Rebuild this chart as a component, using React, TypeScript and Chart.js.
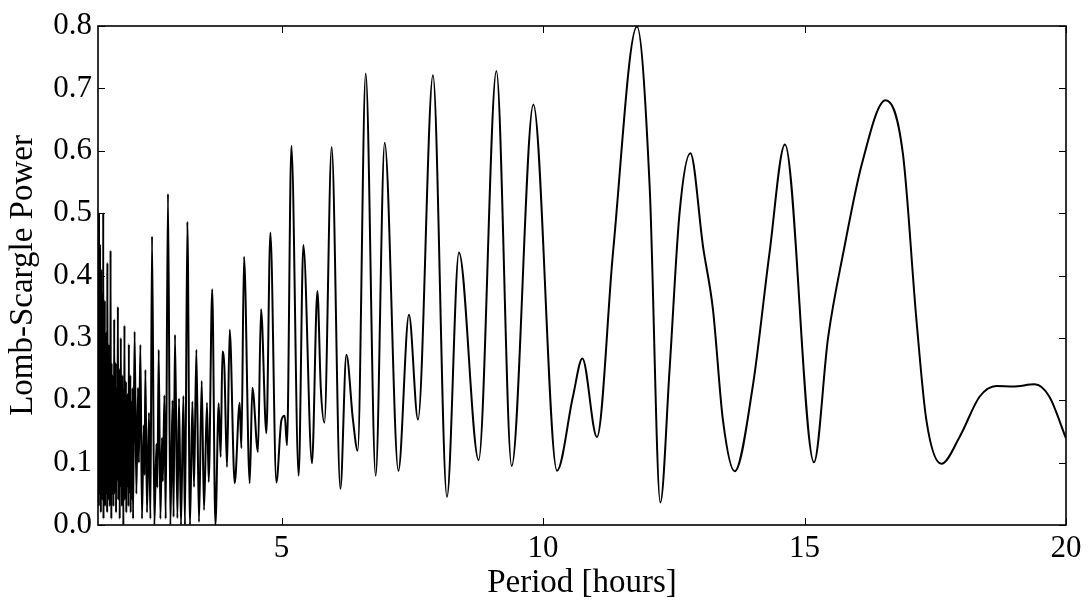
import React, { useEffect, useRef } from "react";
import { Chart, registerables } from "chart.js";

Chart.register(...registerables);

// ---- Data ----
// Dense short-period band (1.49 h – 2.16 h)
const denseBandPeriods: number[] = [
  1.490, 1.495, 1.500, 1.505, 1.510, 1.515, 1.520, 1.525, 1.530, 1.535,
  1.540, 1.545, 1.550, 1.555, 1.560, 1.565, 1.570, 1.575, 1.580, 1.585,
  1.590, 1.595, 1.600, 1.605, 1.610, 1.615, 1.620, 1.625, 1.630, 1.635,
  1.640, 1.645, 1.650, 1.655, 1.660, 1.665, 1.670, 1.675, 1.680, 1.685,
  1.690, 1.695, 1.700, 1.705, 1.710, 1.715, 1.720, 1.725, 1.730, 1.735,
  1.740, 1.745, 1.750, 1.755, 1.760, 1.765, 1.770, 1.775, 1.780, 1.785,
  1.790, 1.795, 1.800,
  1.807, 1.814, 1.821, 1.828, 1.835, 1.842, 1.849, 1.856, 1.863, 1.870,
  1.877, 1.884, 1.891, 1.898, 1.905, 1.912, 1.919, 1.926, 1.933, 1.940,
  1.947, 1.954, 1.961, 1.968, 1.975, 1.982, 1.989, 1.996, 2.003, 2.010,
  2.017, 2.024, 2.031, 2.038, 2.045, 2.052, 2.059, 2.066, 2.073, 2.080,
  2.087, 2.094, 2.101, 2.108, 2.115, 2.122, 2.129, 2.136, 2.143, 2.150,
  2.160,
];
const denseBandPower: number[] = [
  0.30, 0.08, 0.38, 0.03, 0.50, 0.10, 0.36, 0.05, 0.45, 0.12,
  0.28, 0.02, 0.41, 0.07, 0.33, 0.11, 0.37, 0.04, 0.26, 0.09,
  0.50, 0.01, 0.31, 0.06, 0.24, 0.13, 0.36, 0.03, 0.27, 0.08,
  0.22, 0.05, 0.31, 0.10, 0.25, 0.02, 0.42, 0.07, 0.20, 0.12,
  0.29, 0.04, 0.23, 0.09, 0.18, 0.03, 0.27, 0.06, 0.44, 0.11,
  0.21, 0.01, 0.26, 0.08, 0.17, 0.05, 0.24, 0.10, 0.20, 0.03,
  0.15, 0.07, 0.33,
  0.05, 0.19, 0.09, 0.26, 0.02, 0.22, 0.07, 0.17, 0.11, 0.35,
  0.04, 0.21, 0.08, 0.25, 0.01, 0.18, 0.06, 0.30, 0.10, 0.20,
  0.03, 0.24, 0.08, 0.16, 0.00, 0.22, 0.07, 0.32, 0.04, 0.19,
  0.09, 0.23, 0.02, 0.15, 0.06, 0.21, 0.10, 0.18, 0.03, 0.29,
  0.05, 0.17, 0.08, 0.24, 0.02, 0.14, 0.06, 0.20, 0.04, 0.22,
  0.01,
];

// Spiky band (2.19 h – 3.74 h)
const spikyBandPeriods: number[] = [
  2.190, 2.224, 2.255, 2.272, 2.300, 2.331, 2.364, 2.380, 2.396, 2.427,
  2.465, 2.492, 2.523, 2.568, 2.607, 2.625, 2.651, 2.683, 2.714, 2.730,
  2.760, 2.784, 2.828, 2.874, 2.915, 2.935, 2.962, 3.008, 3.039, 3.077,
  3.123, 3.153, 3.199, 3.249, 3.295, 3.326, 3.371, 3.421, 3.473, 3.517,
  3.574, 3.607, 3.674, 3.735,
];
const spikyBandPower: number[] = [
  0.31, 0.05, 0.22, 0.10, 0.289, 0.01, 0.16, 0.08, 0.249, 0.02,
  0.18, 0.01, 0.463, 0.00, 0.13, 0.06, 0.281, 0.01, 0.14, 0.07,
  0.208, 0.01, 0.531, 0.00, 0.20, 0.013, 0.305, 0.011, 0.203, 0.00,
  0.207, 0.00, 0.486, 0.00, 0.198, 0.061, 0.281, 0.005, 0.231, 0.024,
  0.196, 0.069, 0.378, 0.00,
];

// Transition band (3.80 h – 7.90 h)
const midBandPeriods: number[] = [
  3.798, 3.836, 3.869, 3.907, 3.957, 4.008, 4.104, 4.199, 4.232, 4.282,
  4.391, 4.442, 4.549, 4.607, 4.710, 4.786, 4.901, 4.997, 5.060, 5.104,
  5.188, 5.327, 5.417, 5.582, 5.685, 5.750, 5.819, 5.958, 6.125, 6.240,
  6.366, 6.456, 6.609, 6.800, 6.972, 7.234, 7.436, 7.609, 7.895,
];
const midBandPower: number[] = [
  0.195, 0.109, 0.278, 0.251, 0.093, 0.313, 0.067, 0.196, 0.123, 0.430,
  0.067, 0.220, 0.117, 0.346, 0.147, 0.469, 0.068, 0.168, 0.175, 0.128,
  0.608, 0.079, 0.449, 0.099, 0.375, 0.220, 0.164, 0.606, 0.058, 0.273,
  0.168, 0.119, 0.724, 0.079, 0.613, 0.087, 0.337, 0.169, 0.721,
];

// Long-period band (8.16 h – 20 h)
const longBandPeriods: number[] = [
  8.163, 8.392, 8.769, 9.108, 9.400, 9.815, 10.266, 10.572, 10.752, 11.031,
  11.337, 11.796, 12.039, 12.243, 12.42, 12.61, 12.817, 13.06, 13.25, 13.44,
  13.664, 14.01, 14.33, 14.626, 15.18, 15.45, 15.75, 16.10, 16.55, 16.88,
  17.14, 17.33, 17.617, 17.97, 18.35, 18.67, 18.99, 19.40, 19.68, 20.0,
];
const longBandPower: number[] = [
  0.045, 0.437, 0.104, 0.728, 0.0945, 0.674, 0.087, 0.206, 0.267, 0.141,
  0.436, 0.799, 0.542, 0.036, 0.25, 0.50, 0.596, 0.446, 0.345, 0.168,
  0.086, 0.222, 0.436, 0.610, 0.1005, 0.30, 0.44, 0.58, 0.681, 0.596,
  0.329, 0.168, 0.098, 0.142, 0.206, 0.223, 0.222, 0.2255, 0.206, 0.139,
];

const xTickValues: number[] = [5, 10, 15, 20];
const yTickValues: number[] = [0, 0.1, 0.2, 0.3, 0.4, 0.5, 0.6, 0.7, 0.8];
const xAxisTitle = "Period [hours]";
const yAxisTitle = "Lomb-Scargle Power";
const xMin = 1.49;
const xMax = 20;
const yMin = 0;
const yMax = 0.8;

const FONT = "'Liberation Serif', 'Times New Roman', Times, serif";

const frameAndTicks = {
  id: "frameAndTicks",
  afterDatasetsDraw(chart: any) {
    const { ctx, chartArea: a, scales } = chart;
    ctx.save();
    ctx.strokeStyle = "#000";
    ctx.lineWidth = 1;
    const len = 7;
    ctx.beginPath();
    for (const v of xTickValues) {
      const x = Math.round(scales.x.getPixelForValue(v)) + 0.5;
      ctx.moveTo(x, a.bottom);
      ctx.lineTo(x, a.bottom - len);
      ctx.moveTo(x, a.top);
      ctx.lineTo(x, a.top + len);
    }
    for (const v of yTickValues) {
      const y = Math.round(scales.y.getPixelForValue(v)) + 0.5;
      ctx.moveTo(a.left, y);
      ctx.lineTo(a.left + len, y);
      ctx.moveTo(a.right, y);
      ctx.lineTo(a.right - len, y);
    }
    ctx.stroke();
    ctx.lineWidth = 1.6;
    ctx.strokeRect(a.left, a.top, a.right - a.left, a.bottom - a.top);
    ctx.restore();
  },
};

export default function App() {
  const canvasRef = useRef<HTMLCanvasElement | null>(null);

  useEffect(() => {
    const canvas = canvasRef.current;
    if (!canvas) return;
    const periods = [
      ...denseBandPeriods,
      ...spikyBandPeriods,
      ...midBandPeriods,
      ...longBandPeriods,
    ];
    const power = [
      ...denseBandPower,
      ...spikyBandPower,
      ...midBandPower,
      ...longBandPower,
    ];
    const points = periods.map((p, i) => ({ x: p, y: power[i] }));

    const chart = new Chart(canvas, {
      type: "line",
      data: {
        datasets: [
          {
            data: points,
            borderColor: "#000",
            borderWidth: 2,
            pointRadius: 0,
            fill: false,
            cubicInterpolationMode: "monotone",
          },
        ],
      },
      options: {
        responsive: false,
        maintainAspectRatio: false,
        animation: false,
        events: [],
        layout: { padding: { left: 0, right: 25, top: 26, bottom: 0 } },
        plugins: {
          legend: { display: false },
          tooltip: { enabled: false },
        },
        scales: {
          x: {
            type: "linear",
            min: xMin,
            max: xMax,
            afterBuildTicks: (s: any) => {
              s.ticks = xTickValues.map((v) => ({ value: v }));
            },
            afterFit: (s: any) => {
              s.height = 78;
            },
            ticks: {
              color: "#000",
              font: { family: FONT, size: 31 },
              padding: 5,
              maxRotation: 0,
              autoSkip: false,
              callback: (v: any) => String(v),
            },
            grid: { display: false, drawTicks: false },
            border: { display: false },
            title: {
              display: true,
              text: xAxisTitle,
              color: "#000",
              font: { family: FONT, size: 33, lineHeight: 1.2 },
              padding: { top: 0, bottom: 0 },
            },
          },
          y: {
            type: "linear",
            min: yMin,
            max: yMax,
            afterBuildTicks: (s: any) => {
              s.ticks = yTickValues.map((v) => ({ value: v }));
            },
            afterFit: (s: any) => {
              s.width = 98;
            },
            ticks: {
              color: "#000",
              font: { family: FONT, size: 31 },
              padding: 6,
              autoSkip: false,
              callback: (v: any) => Number(v).toFixed(1),
            },
            grid: { display: false, drawTicks: false },
            border: { display: false },
            title: {
              display: true,
              text: yAxisTitle,
              color: "#000",
              font: { family: FONT, size: 33, lineHeight: 1.2 },
              padding: { top: 4, bottom: 0 },
            },
          },
        },
      },
      plugins: [frameAndTicks],
    });

    return () => {
      chart.destroy();
    };
  }, []);

  return (
    <div
      style={{
        position: "absolute",
        left: 0,
        top: 0,
        width: 1091,
        height: 603,
        background: "#fff",
      }}
    >
      <canvas
        ref={canvasRef}
        width={1091}
        height={603}
        style={{ display: "block", width: 1091, height: 603 }}
      />
    </div>
  );
}
